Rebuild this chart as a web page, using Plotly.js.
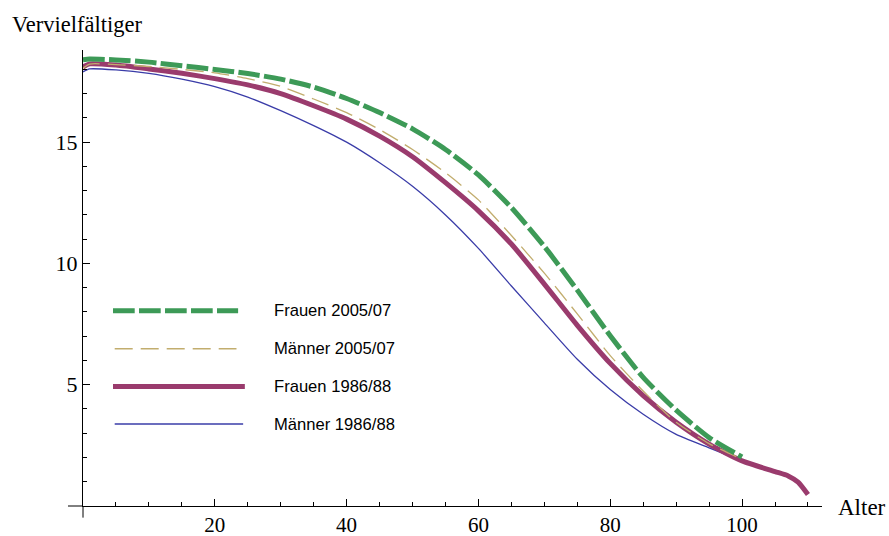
<!DOCTYPE html>
<html>
<head>
<meta charset="utf-8">
<script src="https://cdn.plot.ly/plotly-3.0.1.min.js"></script>
<style>html,body{margin:0;padding:0;background:#fff;}#chart{width:889px;height:536px;}</style>
</head>
<body>
<div id="chart"></div>
<script>
// Ages (Alter)
var ageA = [0, 1, 5, 10, 15, 20, 25, 30, 35, 40, 45, 50, 55, 60, 65, 70, 75, 80, 85, 90, 95, 100];
var ageB = [0, 1, 5, 10, 15, 20, 25, 30, 35, 40, 45, 50, 55, 60, 65, 70, 75, 80, 85, 90, 95, 100, 105, 107, 108.5, 110];

// Vervielfältiger
var frauen2005 = [18.40, 18.43, 18.39, 18.30, 18.15, 18.00, 17.83, 17.60, 17.27, 16.80, 16.22, 15.55, 14.70, 13.65, 12.30, 10.70, 8.90, 7.02, 5.30, 3.95, 2.82, 2.02];
var maenner2005 = [18.05, 18.22, 18.20, 18.12, 18.00, 17.86, 17.62, 17.30, 16.78, 16.22, 15.52, 14.70, 13.74, 12.62, 11.15, 9.60, 7.92, 6.20, 4.74, 3.45, 2.57, 1.93];
var frauen1986 = [18.10, 18.23, 18.18, 18.02, 17.84, 17.62, 17.36, 17.00, 16.50, 15.95, 15.25, 14.40, 13.33, 12.17, 10.80, 9.15, 7.45, 5.88, 4.55, 3.45, 2.55, 1.86, 1.42, 1.24, 0.98, 0.47];
var maenner1986 = [17.90, 18.02, 17.98, 17.84, 17.60, 17.29, 16.86, 16.30, 15.68, 15.00, 14.15, 13.18, 12.00, 10.62, 9.07, 7.55, 6.05, 4.80, 3.78, 2.95, 2.40, 1.86];

var seriesNames = ["Frauen 2005/07", "Männer 2005/07", "Frauen 1986/88", "Männer 1986/88"];
var xTickVals = [20, 40, 60, 80, 100];
var yTickVals = [5, 10, 15];

var cGreen = "#3d9a57", cTan = "#c2ad6e", cPurple = "#9a3b6d", cBlue = "#3a3ca8";
var dGreen = "21.7px,4.3px", dTan = "18px,8px";

var traces = [
  {x: ageA, y: maenner1986, mode: "lines", line: {color: cBlue, width: 1.3, shape: "spline", smoothing: 0.6}, name: seriesNames[3], cliponaxis: false},
  {x: ageB, y: frauen1986, mode: "lines", line: {color: cPurple, width: 5, shape: "spline", smoothing: 0.6}, name: seriesNames[2], cliponaxis: false},
  {x: ageA, y: maenner2005, mode: "lines", line: {color: cTan, width: 1.3, dash: dTan, shape: "spline", smoothing: 0.6}, name: seriesNames[1], cliponaxis: false},
  {x: ageA, y: frauen2005, mode: "lines", line: {color: cGreen, width: 5, dash: dGreen, shape: "spline", smoothing: 0.6}, name: seriesNames[0], cliponaxis: false}
];

// manual legend (paper coordinates)
var leg = [
  {x0: 0.0406, x1: 0.2099, y: 0.4281, color: cGreen, width: 5, dash: dGreen, text: seriesNames[0]},
  {x0: 0.0429, x1: 0.2077, y: 0.3448, color: cTan, width: 1.3, dash: dTan, text: seriesNames[1]},
  {x0: 0.0406, x1: 0.2190, y: 0.2622, color: cPurple, width: 5, dash: "solid", text: seriesNames[2]},
  {x0: 0.0429, x1: 0.2167, y: 0.1798, color: cBlue, width: 1.3, dash: "solid", text: seriesNames[3]}
];

var shapes = [
  {type: "line", xref: "paper", yref: "paper", x0: -0.0203, x1: 0, y0: 0, y1: 0, line: {color: "#000", width: 1}},
  {type: "line", xref: "paper", yref: "paper", x0: 0, x1: 0, y0: -0.0255, y1: 0, line: {color: "#000", width: 1}}
];
var annotations = [
  {xref: "paper", yref: "paper", x: -0.099, y: 1.057, xanchor: "left", yanchor: "middle", showarrow: false,
   text: "Vervielfältiger", font: {family: "Liberation Serif", size: 22.5, color: "#000"}},
  {xref: "paper", yref: "paper", x: 1.0190, y: -0.0036, xanchor: "left", yanchor: "middle", showarrow: false,
   text: "Alter", font: {family: "Liberation Serif", size: 23, color: "#000"}}
];
leg.forEach(function (l) {
  shapes.push({type: "line", xref: "paper", yref: "paper", x0: l.x0, x1: l.x1, y0: l.y, y1: l.y,
    line: {color: l.color, width: l.width, dash: l.dash}});
  annotations.push({xref: "paper", yref: "paper", x: 0.2554, y: l.y, xanchor: "left", yanchor: "middle",
    showarrow: false, text: l.text, font: {family: "Liberation Sans", size: 16.6, color: "#000"}});
});

var layout = {
  width: 889, height: 536,
  margin: {l: 83.3, r: 67.3, t: 50, b: 29.65, pad: 0},
  paper_bgcolor: "#fff", plot_bgcolor: "#fff",
  showlegend: false,
  xaxis: {range: [0, 112.13], tickmode: "array", tickvals: xTickVals, ticktext: xTickVals.map(String),
    ticks: "inside", ticklen: 7, tickwidth: 1, tickcolor: "#000",
    minor: {tickmode: "linear", tick0: 0, dtick: 5, ticks: "inside", ticklen: 4, tickwidth: 1, tickcolor: "#000"},
    showline: true, linecolor: "#000", linewidth: 1, showgrid: false, zeroline: false,
    tickfont: {family: "Liberation Serif", size: 21, color: "#000"}},
  yaxis: {range: [0, 18.80], tickmode: "array", tickvals: yTickVals, ticktext: yTickVals.map(String),
    ticks: "inside", ticklen: 7, tickwidth: 1, tickcolor: "#000",
    minor: {tickmode: "linear", tick0: 0, dtick: 1, ticks: "inside", ticklen: 4, tickwidth: 1, tickcolor: "#000"},
    showline: true, linecolor: "#000", linewidth: 1, showgrid: false, zeroline: false,
    tickfont: {family: "Liberation Serif", size: 22, color: "#000"}},
  shapes: shapes,
  annotations: annotations
};

Plotly.newPlot("chart", traces, layout, {displayModeBar: false, staticPlot: true});
</script>
</body>
</html>
